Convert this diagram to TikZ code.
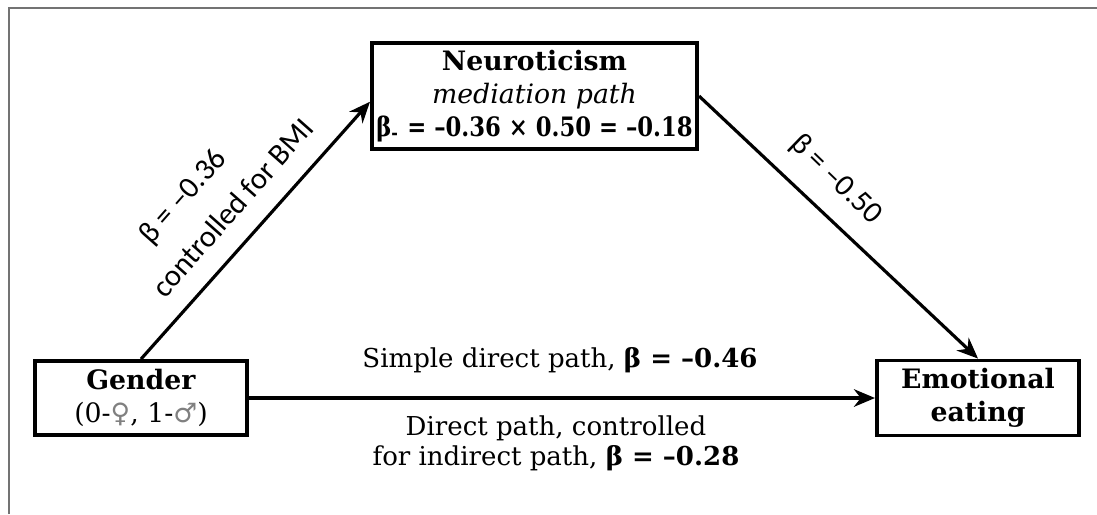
\documentclass[tikz,border=0pt]{standalone}
\usepackage{fontspec}
\setmainfont{DejaVu Serif}
\newfontfamily\pathfont{Carlito}
\newfontfamily\symfont{DejaVu Sans}
\usetikzlibrary{arrows.meta}
\tikzset{>={Stealth[length=6pt,width=5pt]}}
\tikzset{
  varbox/.style={draw, line width=1.1pt, inner sep=0pt, align=center,
    font=\fontsize{7.6}{9.4}\selectfont},
  effect/.style={->, line width=0.9pt},
  coeflabel/.style={font=\pathfont\fontsize{8.7}{10}\selectfont},
  directlabel/.style={align=center, font=\fontsize{7.4}{8.5}\selectfont}
}

\begin{document}
\begin{tikzpicture}[x=0.01cm,y=-0.01cm]
  \useasboundingbox (0,0) rectangle (1097,514);
  \draw[gray!90!black, line width=0.6pt] (9,514) -- (9,8) -- (1097,8);

  \node[varbox, minimum width=3.25cm, minimum height=1.06cm] (neuro) at (534.5,96)
    {\textbf{Neuroticism}\\ \textit{mediation path}\\
     \scalebox{0.85}[1]{\textbf{β\textsubscript{-} = –0.36 × 0.50 = –0.18}}};
  \node[varbox, minimum width=2.12cm, minimum height=0.74cm] (gender) at (141,398)
    {\textbf{Gender}\\ (0-{\symfont\color{gray}♀}, 1-{\symfont\color{gray}♂})};
  \node[varbox, minimum width=2.02cm, minimum height=0.75cm] (emo) at (978,398)
    {\textbf{Emotional}\\ \textbf{eating}};

  \draw[effect] (gender.north) -- (neuro.182);
  \draw[effect] (neuro.east) -- (emo.north);
  \draw[effect] (gender.east) -- (emo.west);

  \node[coeflabel, rotate=48.5, align=center] (acoef) at (199,211)
    {β = –0.36\\[3pt] \hspace*{0.5cm}controlled for BMI};
  \node[coeflabel, rotate=-44] (bcoef) at (836,180) {β = –0.50};

  \node[directlabel] (simple) at (560,360) {Simple direct path, \textbf{β = –0.46}};
  \node[directlabel] (direct) at (556,443)
    {Direct path, controlled\\ for indirect path, \textbf{β = –0.28}};
\end{tikzpicture}
\end{document}
